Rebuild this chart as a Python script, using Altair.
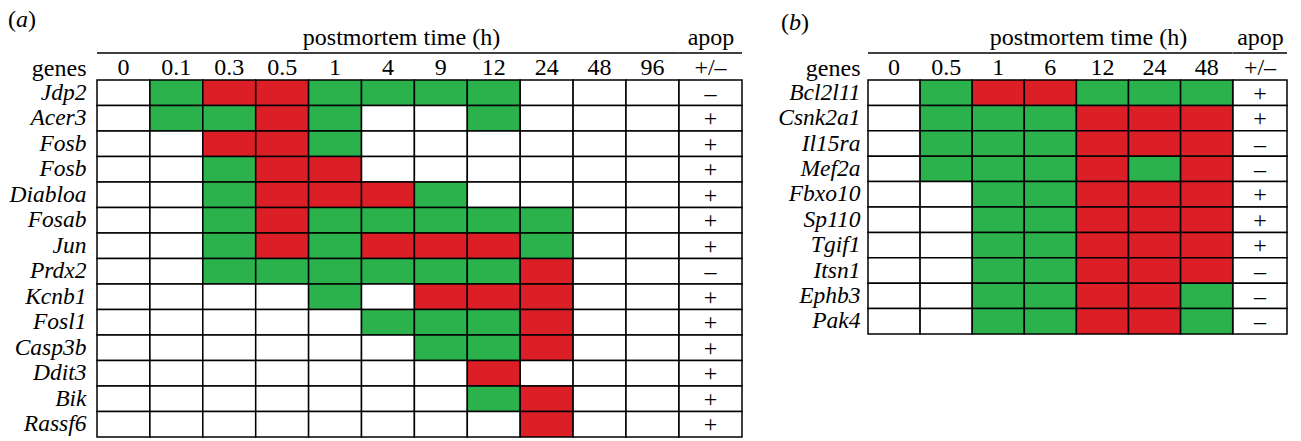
import altair as alt
import pandas as pd

FONT = "Liberation Serif"
FS = 24
GENE_FS = 23.5
GREEN = "#2bb24c"
RED = "#dc1f26"

# ---- panel (a) data ----
times_a = ["0", "0.1", "0.3", "0.5", "1", "4", "9", "12", "24", "48", "96"]
genes_a = ["Jdp2", "Acer3", "Fosb", "Fosb", "Diabloa", "Fosab", "Jun", "Prdx2",
           "Kcnb1", "Fosl1", "Casp3b", "Ddit3", "Bik", "Rassf6"]
# W = no change (white), G = green, R = red
states_a = [
    "WGRRGGGGWWW",
    "WGGRGWWGWWW",
    "WWRRGWWWWWW",
    "WWGRRWWWWWW",
    "WWGRRRGWWWW",
    "WWGRGGGGGWW",
    "WWGRGRRRGWW",
    "WWGGGGGGRWW",
    "WWWWGWRRRWW",
    "WWWWWGGGRWW",
    "WWWWWWGGRWW",
    "WWWWWWWRWWW",
    "WWWWWWWGRWW",
    "WWWWWWWWRWW",
]
apop_a = ["–", "+", "+", "+", "+", "+", "+", "–", "+", "+", "+", "+", "+", "+"]

# ---- panel (b) data ----
times_b = ["0", "0.5", "1", "6", "12", "24", "48"]
genes_b = ["Bcl2l11", "Csnk2a1", "Il15ra", "Mef2a", "Fbxo10", "Sp110", "Tgif1",
           "Itsn1", "Ephb3", "Pak4"]
states_b = [
    "WGRRGGG",
    "WGGGRRR",
    "WGGGRRR",
    "WGGGRGR",
    "WWGGRRR",
    "WWGGRRR",
    "WWGGRRR",
    "WWGGRRR",
    "WWGGRRG",
    "WWGGRRG",
]
apop_b = ["+", "+", "–", "–", "+", "+", "+", "–", "–", "–"]


def letter_marks(letter, x0, y0):
    parts = [("(", "normal", 0), (letter, "italic", 8), (")", "normal", 20)]
    layers = []
    for txt, style, dx in parts:
        layers.append(
            alt.Chart(pd.DataFrame({"t": [txt]}))
            .mark_text(font=FONT, fontSize=FS, fontStyle=style, color="black",
                       align="left", baseline="middle")
            .encode(text="t:N", x=alt.value(x0 + dx), y=alt.value(y0))
        )
    return layers


def panel(letter, times, genes, states, apop, col_w, apop_w, row_h,
          label_pad, title_x, letter_x, letter_y):
    n = len(genes)
    H = row_h * n
    W = col_w * len(times)
    recs = []
    for i, row in enumerate(states):
        for t, s in zip(times, row):
            recs.append({"row": i, "time": t, "state": s})
    cells = pd.DataFrame(recs)
    label_expr = "[" + ",".join(repr(g) for g in genes) + "][datum.value]"

    yenc = alt.Y(
        "row:O", sort=list(range(n)),
        axis=alt.Axis(labelExpr=label_expr, labelFont=FONT, labelFontStyle="italic",
                      labelFontSize=GENE_FS, labelColor="black", labelPadding=label_pad,
                      ticks=False, domain=False, title="genes", titleFont=FONT,
                      titleFontSize=FS, titleFontWeight="normal", titleColor="black",
                      titleAngle=0, titleAlign="right", titleBaseline="middle",
                      titleX=-label_pad, titleY=-12))
    xenc = alt.X(
        "time:O", sort=times,
        axis=alt.Axis(orient="top", labelAngle=0, labelFont=FONT, labelFontSize=FS,
                      labelColor="black", labelPadding=1, ticks=False, domain=False,
                      title="postmortem time (h)", titleFont=FONT, titleFontSize=FS,
                      titleFontWeight="normal", titleColor="black", titlePadding=6,
                      titleX=title_x))
    rect = alt.Chart(cells).mark_rect(stroke="black", strokeWidth=1.5).encode(
        x=xenc, y=yenc,
        color=alt.Color("state:N",
                        scale=alt.Scale(domain=["W", "G", "R"],
                                        range=["white", GREEN, RED]),
                        legend=None))
    rule_g = alt.Chart(pd.DataFrame({"k": [0]})).mark_rule(
        color="black", strokeWidth=1.5).encode(
        x=alt.value(0), x2=alt.value(W), y=alt.value(-27))
    grid = alt.layer(rect, rule_g, *letter_marks(letter, letter_x, letter_y)).properties(
        width=W, height=H)

    ad = pd.DataFrame({"row": list(range(n)), "sign": apop, "col": ["+/–"] * n})
    base = alt.Chart(ad).encode(
        x=alt.X("col:N",
                axis=alt.Axis(orient="top", labelAngle=0, labelFont=FONT,
                              labelFontSize=FS, labelColor="black", labelPadding=1,
                              ticks=False, domain=False, title="apop", titleFont=FONT,
                              titleFontSize=FS, titleFontWeight="normal",
                              titleColor="black", titlePadding=6)),
        y=alt.Y("row:O", sort=list(range(n)), axis=None))
    rule_a = alt.Chart(pd.DataFrame({"k": [0]})).mark_rule(
        color="black", strokeWidth=1.5).encode(
        x=alt.value(0), x2=alt.value(apop_w), y=alt.value(-27))
    apop_chart = alt.layer(
        base.mark_rect(fill="white", stroke="black", strokeWidth=1.5),
        base.mark_text(font=FONT, fontSize=FS, color="black", dy=1).encode(text="sign:N"),
        rule_a,
    ).properties(width=apop_w, height=H)
    return grid, apop_chart


ga, aa = panel("a", times_a, genes_a, states_a, apop_a, 52.9, 63, 25.5, 11, 304, -89, -60)
gb, ab = panel("b", times_b, genes_b, states_b, apop_b, 52.1, 54, 25.4, 8, 220, -87, -57)

# empty gap between the two panels
spacer = alt.Chart(pd.DataFrame({"k": [0]})).mark_point(opacity=0).encode(
    x=alt.value(0), y=alt.value(0)).properties(width=126, height=10)

chart = alt.hconcat(ga, aa, spacer, gb, ab, spacing=0, bounds="flush").properties(
    padding=0
).configure_view(stroke=None)

chart.save("out.html", embed_options={"renderer": "svg", "actions": False})
